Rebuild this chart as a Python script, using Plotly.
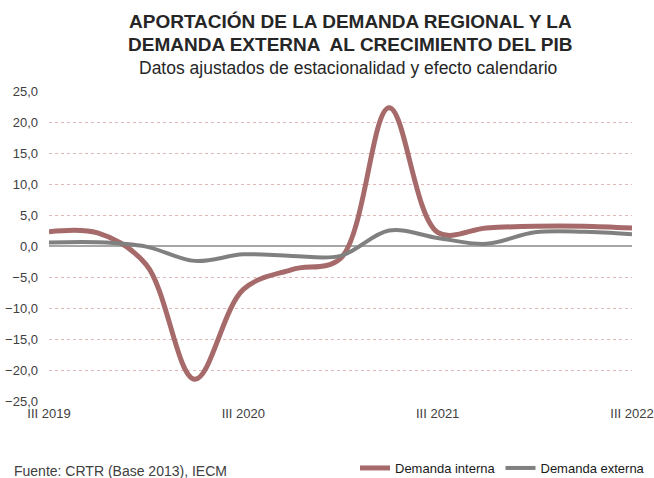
import plotly.graph_objects as go

quarters = ["III 2019", "IV 2019", "I 2020", "II 2020", "III 2020", "IV 2020", "I 2021",
            "II 2021", "III 2021", "IV 2021", "I 2022", "II 2022", "III 2022"]
demanda_interna = [2.3, 2.1, -3.0, -21.5, -7.0, -3.8, -2.0, 22.3, 2.2, 2.9, 3.2, 3.2, 2.9]
demanda_externa = [0.55, 0.6, -0.1, -2.4, -1.35, -1.6, -1.6, 2.5, 1.3, 0.35, 2.2, 2.3, 1.9]
tick_labels = ["III 2019", "III 2020", "III 2021", "III 2022"]
y_ticks = [-25, -20, -15, -10, -5, 0, 5, 10, 15, 20, 25]

x = list(range(len(quarters)))
font_family = "Liberation Sans, Arial, sans-serif"

PL, PR, PT, PB = 49, 632, 91, 401   # plot-area pixel edges
PW, PH = PR - PL, PB - PT


def px(xp):
    return (xp - PL) / PW


def py(yp):
    return (PB - yp) / PH


fig = go.Figure()
fig.add_trace(go.Scatter(
    x=x, y=demanda_interna, mode="lines", name="Demanda interna",
    line=dict(color="#a66a6a", width=5, shape="spline", smoothing=1.0),
))
fig.add_trace(go.Scatter(
    x=x, y=demanda_externa, mode="lines", name="Demanda externa",
    line=dict(color="#808080", width=4, shape="spline", smoothing=1.0),
))

fig.update_layout(
    width=654, height=478,
    margin=dict(l=PL, r=654 - PR, t=PT, b=478 - PB, autoexpand=False),
    paper_bgcolor="white", plot_bgcolor="white",
    separators=",.",
    font=dict(family=font_family, size=13, color="#404040"),
    showlegend=True,
    legend=dict(orientation="h", xref="container", yref="container",
                x=(654 - 4) / 654, xanchor="right", y=(478 - 468) / 478, yanchor="middle",
                font=dict(size=13, color="#1a1a1a"), bgcolor="rgba(0,0,0,0)",
                itemwidth=30, tracegroupgap=0),
    xaxis=dict(range=[0, 12], tickmode="array", tickvals=[0, 4, 8, 12], ticktext=tick_labels,
               showgrid=False, zeroline=False, showline=False, ticks="", automargin=False,
               ticklabelstandoff=3,
               tickfont=dict(size=13, color="#404040")),
    yaxis=dict(range=[-25, 25], tickmode="array", tickvals=y_ticks, tickformat=".1f",
               showgrid=True, gridcolor="#e0b8b8", griddash="dot", gridwidth=1,
               zeroline=True, zerolinecolor="#a6a6a6", zerolinewidth=1.5,
               showline=False, ticks="", ticklabelstandoff=10, automargin=False,
               tickfont=dict(size=13, color="#404040")),
    annotations=[
        dict(text="<b>APORTACIÓN DE LA DEMANDA REGIONAL Y LA</b>", xref="paper", yref="paper",
             x=px(350), y=py(22), xanchor="center", yanchor="middle",
             showarrow=False, font=dict(size=19, color="#262626")),
        dict(text="<b>DEMANDA EXTERNA  AL CRECIMIENTO DEL PIB</b>", xref="paper", yref="paper",
             x=px(350), y=py(45), xanchor="center", yanchor="middle",
             showarrow=False, font=dict(size=19, color="#262626")),
        dict(text="Datos ajustados de estacionalidad y efecto calendario", xref="paper", yref="paper",
             x=px(348), y=py(68), xanchor="center", yanchor="middle",
             showarrow=False, font=dict(size=17.5, color="#262626")),
        dict(text="Fuente: CRTR (Base 2013), IECM", xref="paper", yref="paper",
             x=px(12), y=py(471), xanchor="left", yanchor="middle",
             showarrow=False, font=dict(size=14, color="#404040")),
    ],
)

fig.write_html(
    "out.html",
    config={"displayModeBar": False},
    post_script="document.body.style.margin='0';document.body.style.overflow='hidden';",
)
